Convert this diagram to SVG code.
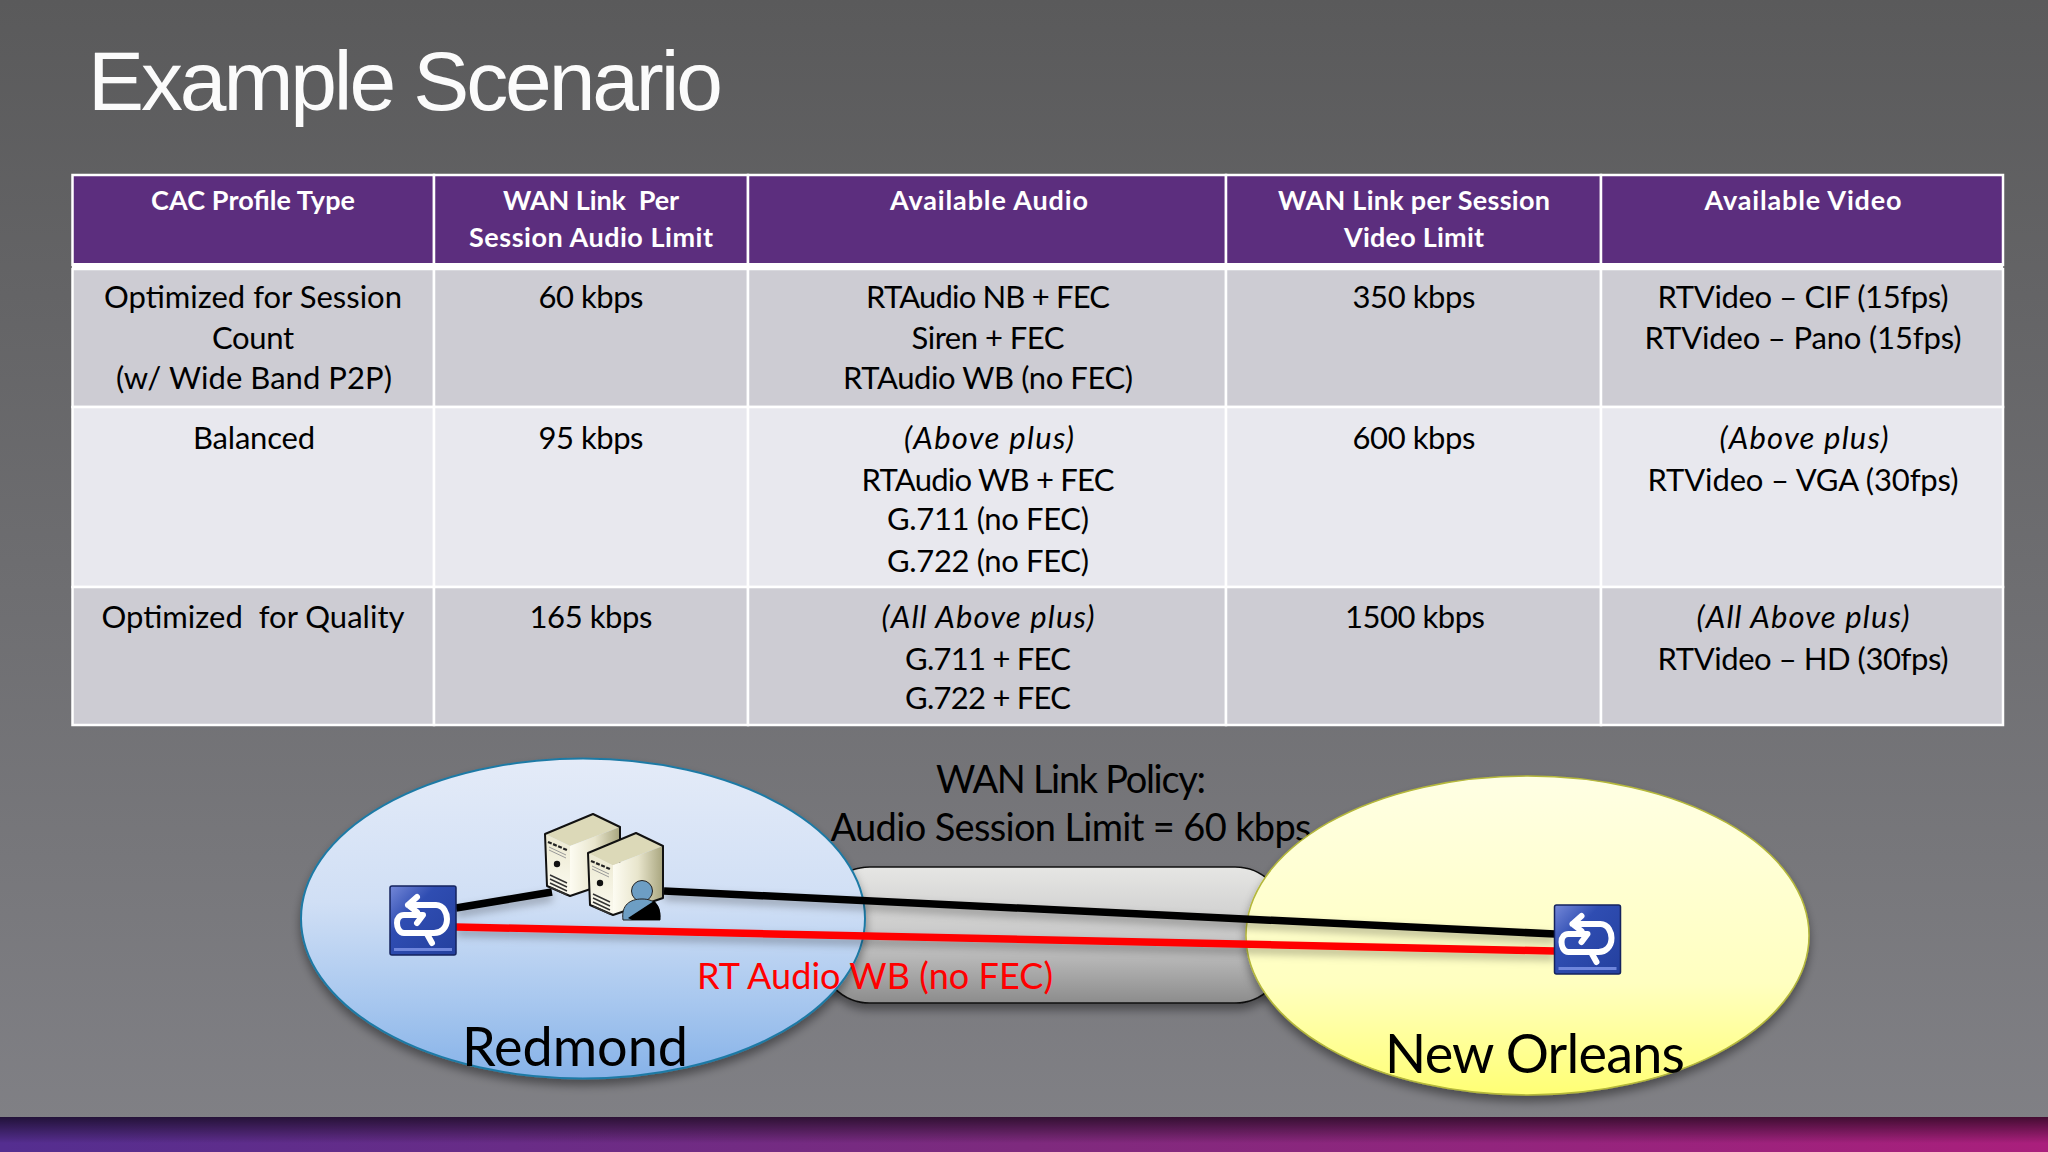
<svg xmlns="http://www.w3.org/2000/svg" width="2048" height="1152" viewBox="0 0 2048 1152">
<defs>
<linearGradient id="bg" x1="0" y1="0" x2="0" y2="1"><stop offset="0" stop-color="#5a5a5b"/><stop offset="1" stop-color="#818186"/></linearGradient>
<linearGradient id="band" x1="0" y1="0" x2="1" y2="0"><stop offset="0" stop-color="#542e90"/><stop offset="0.5" stop-color="#7e2a7e"/><stop offset="1" stop-color="#aa1f7c"/></linearGradient>
<linearGradient id="bandshade" x1="0" y1="0" x2="0" y2="1"><stop offset="0" stop-color="#000" stop-opacity="0.6"/><stop offset="0.75" stop-color="#000" stop-opacity="0"/></linearGradient>
<linearGradient id="blue" x1="0" y1="0" x2="0" y2="1"><stop offset="0" stop-color="#e4ebf8"/><stop offset="0.45" stop-color="#d0dff5"/><stop offset="0.75" stop-color="#a9c8ef"/><stop offset="1" stop-color="#86b2e8"/></linearGradient>
<linearGradient id="yellow" x1="0" y1="0" x2="0" y2="1"><stop offset="0" stop-color="#ffffe4"/><stop offset="0.65" stop-color="#ffffc0"/><stop offset="1" stop-color="#ffff74"/></linearGradient>
<linearGradient id="wan" x1="0" y1="0" x2="0" y2="1"><stop offset="0" stop-color="#e6e6e4"/><stop offset="0.55" stop-color="#c6c6c6"/><stop offset="1" stop-color="#8c8c8c"/></linearGradient>
<linearGradient id="iconfill" x1="0" y1="0" x2="1" y2="1"><stop offset="0" stop-color="#7488d8"/><stop offset="0.35" stop-color="#2f4db2"/><stop offset="1" stop-color="#24409e"/></linearGradient>
<linearGradient id="front" x1="0" y1="0" x2="0" y2="1"><stop offset="0" stop-color="#ece9d0"/><stop offset="1" stop-color="#fbfaf0"/></linearGradient>
<linearGradient id="side" x1="0" y1="0" x2="1" y2="0"><stop offset="0" stop-color="#fdfcf2"/><stop offset="0.5" stop-color="#e8e5cc"/><stop offset="1" stop-color="#a8a57e"/></linearGradient>
<filter id="shadow" x="-10%" y="-10%" width="120%" height="125%"><feDropShadow dx="0" dy="6" stdDeviation="5" flood-color="#000" flood-opacity="0.4"/></filter>
<filter id="lineshadow" x="-5%" y="-40%" width="110%" height="200%"><feDropShadow dx="0" dy="5" stdDeviation="4" flood-color="#000" flood-opacity="0.3"/></filter>
<g id="sync">
<rect x="0" y="0" width="66" height="69" rx="2" fill="url(#iconfill)" stroke="#14235e" stroke-width="1.5"/>
<rect x="4" y="62" width="58" height="3" fill="#6f86dc"/>
<path d="M27 11 L18 19 L27 26 M18 19 H46 C54 19 57 28 57 33 C57 42 51 47 44 47 H14 C9 47 7 41 7 37 C7 32 10 29 14 29 H33 L27 37 M37 48 L42 57" fill="none" stroke="#fff" stroke-width="6" stroke-linecap="round" stroke-linejoin="round"/>
</g>
<g id="tower">
<path d="M0 20 L48 0 L75 13 L25 32Z" fill="#dcd9b8"/>
<path d="M0 20 L25 32 L25 82 L2 72Z" fill="url(#front)"/>
<path d="M25 32 L75 13 L75 65 L25 82Z" fill="url(#side)"/>
<path d="M0 20 L48 0 L75 13 L75 65 L25 82 L2 72Z" fill="none" stroke="#111" stroke-width="2" stroke-linejoin="round"/>
<path d="M3 28 L22 36" stroke="#222" stroke-width="2.2" stroke-dasharray="4 1.5"/>
<path d="M4 33 L21 41 M4 36 L21 44" stroke="#999" stroke-width="1"/>
<circle cx="12" cy="50" r="3.2" fill="#111"/>
<path d="M5 61 L22 69 M5 65 L22 73 M5 69 L22 77 M5 73 L22 81" stroke="#333" stroke-width="1.4"/>
</g>
</defs>
<style>
text{font-family:Lato,"Open Sans",sans-serif;fill:#000;text-anchor:middle;white-space:pre}
.h{font-size:27px;font-weight:700;fill:#fff}
.b{font-size:31px}
.i{font-size:31px;font-style:italic}
.d{font-size:38px}
.cell{stroke:#fff;stroke-width:2.5}
.hc{fill:#5c2e7e}.r1{fill:#cdccd3}.r2{fill:#e8e8ee}
</style>
<rect width="2048" height="1152" fill="url(#bg)"/>
<rect y="1117" width="2048" height="35" fill="url(#band)"/>
<rect y="1117" width="2048" height="35" fill="url(#bandshade)"/>
<text x="88" y="110" textLength="635" style="font-family:'Liberation Sans',Arial,sans-serif;font-size:84px;fill:#fbfbfb;text-anchor:start">Example Scenario</text>

<g id="table">
<g id="header-row">
<rect class="cell hc" x="72.5" y="175" width="361.5" height="90"/><rect class="cell hc" x="434" y="175" width="314" height="90"/><rect class="cell hc" x="748" y="175" width="478" height="90"/><rect class="cell hc" x="1226" y="175" width="375" height="90"/><rect class="cell hc" x="1601" y="175" width="402" height="90"/>
<rect x="72" y="263" width="1931" height="7" fill="#fff"/>
<text class="h" x="253" y="210" textLength="204">CAC Profile Type</text>
<text class="h" x="591" y="210" textLength="176">WAN Link  Per</text>
<text class="h" x="591" y="247" textLength="244">Session Audio Limit</text>
<text class="h" x="989" y="210" textLength="198">Available Audio</text>
<text class="h" x="1414" y="210" textLength="272">WAN Link per Session</text>
<text class="h" x="1414" y="247" textLength="140">Video Limit</text>
<text class="h" x="1803" y="210" textLength="197">Available Video</text>
</g>
<g id="row-1">
<rect class="cell r1" x="72.5" y="269" width="361.5" height="138"/><rect class="cell r1" x="434" y="269" width="314" height="138"/><rect class="cell r1" x="748" y="269" width="478" height="138"/><rect class="cell r1" x="1226" y="269" width="375" height="138"/><rect class="cell r1" x="1601" y="269" width="402" height="138"/>
<text class="b" x="253" y="307.5" textLength="298">Optimized for Session</text>
<text class="b" x="253" y="349" textLength="82">Count</text>
<text class="b" x="254" y="389" textLength="276">(w/ Wide Band P2P)</text>
<text class="b" x="591" y="307.5" textLength="105">60 kbps</text>
<text class="b" x="988" y="307.5" textLength="244">RTAudio NB + FEC</text>
<text class="b" x="988" y="349" textLength="153">Siren + FEC</text>
<text class="b" x="988" y="389" textLength="290">RTAudio WB (no FEC)</text>
<text class="b" x="1414" y="307.5" textLength="123">350 kbps</text>
<text class="b" x="1803" y="307.5" textLength="291">RTVideo – CIF (15fps)</text>
<text class="b" x="1803" y="349" textLength="317">RTVideo – Pano (15fps)</text>
</g>
<g id="row-2">
<rect class="cell r2" x="72.5" y="407" width="361.5" height="180"/><rect class="cell r2" x="434" y="407" width="314" height="180"/><rect class="cell r2" x="748" y="407" width="478" height="180"/><rect class="cell r2" x="1226" y="407" width="375" height="180"/><rect class="cell r2" x="1601" y="407" width="402" height="180"/>
<text class="b" x="254" y="448.5" textLength="122">Balanced</text>
<text class="b" x="591" y="448.5" textLength="105">95 kbps</text>
<text class="i" x="989" y="448.5" textLength="170">(Above plus)</text>
<text class="b" x="988" y="490.5" textLength="253">RTAudio WB + FEC</text>
<text class="b" x="988" y="529.5" textLength="202">G.711 (no FEC)</text>
<text class="b" x="988" y="571.5" textLength="202">G.722 (no FEC)</text>
<text class="b" x="1414" y="448.5" textLength="123">600 kbps</text>
<text class="i" x="1804" y="448.5" textLength="169">(Above plus)</text>
<text class="b" x="1803" y="490.5" textLength="311">RTVideo – VGA (30fps)</text>
</g>
<g id="row-3">
<rect class="cell r1" x="72.5" y="587" width="361.5" height="138"/><rect class="cell r1" x="434" y="587" width="314" height="138"/><rect class="cell r1" x="748" y="587" width="478" height="138"/><rect class="cell r1" x="1226" y="587" width="375" height="138"/><rect class="cell r1" x="1601" y="587" width="402" height="138"/>
<text class="b" x="253" y="627.5" textLength="303">Optimized  for Quality</text>
<text class="b" x="591" y="627.5" textLength="123">165 kbps</text>
<text class="i" x="988" y="627.5" textLength="213">(All Above plus)</text>
<text class="b" x="988" y="669.5" textLength="166">G.711 + FEC</text>
<text class="b" x="988" y="709" textLength="166">G.722 + FEC</text>
<text class="b" x="1415" y="627.5" textLength="140">1500 kbps</text>
<text class="i" x="1803" y="627.5" textLength="213">(All Above plus)</text>
<text class="b" x="1803" y="669.5" textLength="291">RTVideo – HD (30fps)</text>
</g>
</g>

<g id="wan-link"><rect x="820" y="867" width="465" height="136" rx="50" fill="url(#wan)" stroke="#111" stroke-width="1.5" filter="url(#shadow)"/></g>
<text class="d" x="1071" y="793" textLength="270">WAN Link Policy:</text>
<text class="d" x="1071" y="841" textLength="481">Audio Session Limit = 60 kbps</text>
<g id="redmond"><ellipse cx="583" cy="918.5" rx="282" ry="160" fill="url(#blue)" stroke="#1f7aa5" stroke-width="2" filter="url(#shadow)"/></g>
<g id="new-orleans"><ellipse cx="1527.5" cy="935.5" rx="281.5" ry="159.5" fill="url(#yellow)" stroke="#b5b83a" stroke-width="1.5" filter="url(#shadow)"/></g>
<text x="575" y="1066" textLength="226" style="font-size:54px">Redmond</text>
<text x="1535" y="1073" textLength="300" style="font-size:54px">New Orleans</text>

<g id="connectors" fill="none" stroke-width="7.5" filter="url(#lineshadow)">
<path d="M456 908 L552 892" stroke="#000"/>
<path d="M664 891 L1555 934" stroke="#000"/>
<path d="M456 927 L1555 951" stroke="#f00"/>
</g>
<text x="875" y="989" textLength="356" style="font-size:36px;fill:#f00">RT Audio WB (no FEC)</text>

<g id="sync-redmond"><use href="#sync" x="390" y="886"/></g>
<g id="servers">
<use href="#tower" x="545" y="814"/>
<use href="#tower" x="588" y="833"/>
<circle cx="642" cy="891" r="10.5" fill="#6d9ec4" stroke="#222" stroke-width="1"/>
<path d="M623 920 C621 905 630 899 642 899 C654 899 661 905 660 920Z" fill="#6d9ec4" stroke="#222" stroke-width="1"/>
<path d="M628 918 L654 901 C659 905 661 911 660 920 H632Z" fill="#000"/>
</g>
<g id="sync-new-orleans"><use href="#sync" x="1554.5" y="905"/></g>
</svg>
